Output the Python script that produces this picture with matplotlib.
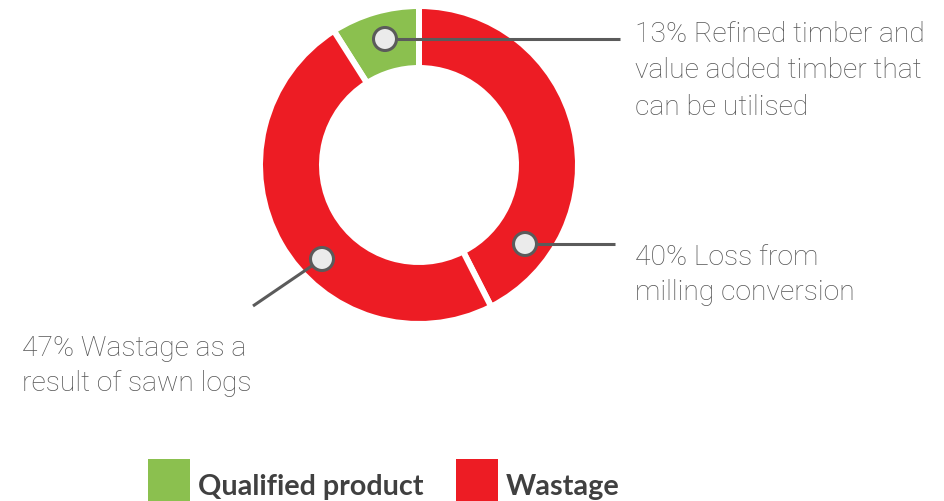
import matplotlib
matplotlib.use("Agg")
import matplotlib.pyplot as plt
from matplotlib.patches import Circle, Rectangle
import numpy as np

# ---- data ----
slice_names = ["Refined timber", "Loss from milling", "Wastage sawn logs"]
slice_values = [9.0, 42.5, 48.5]          # as drawn in the ring
slice_colors = ["#8BC04F", "#ED1C24", "#ED1C24"]
label_lines = [
    ["13% Refined timber and", "value added timber that", "can be utilised"],
    ["40% Loss from", "milling conversion"],
    ["47% Wastage as a", "result of sawn logs"],
]
legend_labels = ["Qualified product", "Wastage"]
legend_colors = ["#8BC04F", "#ED1C24"]

W, H = 945, 502
fig = plt.figure(figsize=(W / 100, H / 100), dpi=100)
ax = fig.add_axes([0, 0, 1, 1])
ax.set_xlim(0, W)
ax.set_ylim(0, H)
ax.set_aspect("equal")
ax.axis("off")

def Y(y):
    return H - y

cx, cy = 419, Y(166)
gap_px = 6
lw_pt = gap_px * 72 / 100
R_out, R_in = 156, 100
radius = R_out + gap_px / 2
width = (R_out - R_in) + gap_px

total = sum(slice_values)
start = 90 + 360 * slice_values[0] / total
ax.pie(slice_values, colors=slice_colors, startangle=start, counterclock=False,
       center=(cx, cy), radius=radius, frame=True,
       wedgeprops=dict(width=width, edgecolor="white", linewidth=lw_pt))
ax.set_xlim(0, W)
ax.set_ylim(0, H)
ax.axis("off")

line_c = "#5B5B5B"
marker_pts = [(385, 40), (525, 245), (322, 260)]
line_ends = [(620, 40), (615, 245), (253, 307)]
for (mx, my), (ex, ey) in zip(marker_pts, line_ends):
    ax.plot([mx, ex], [Y(my), Y(ey)], color=line_c, lw=2.2, solid_capstyle="butt", zorder=5)
    ax.add_patch(Circle((mx, Y(my)), 11.5, facecolor="#EBEBEB", edgecolor=line_c, lw=2.2, zorder=6))

txt_c = "#555555"
font = dict(family=["Roboto", "DejaVu Sans"], fontsize=20.3, color=txt_c, fontweight="light")
label_pos = [(635, 42, 36.5), (635, 265, 34.5), (22, 356, 35)]
for (x, y0, dy), lines in zip(label_pos, label_lines):
    for i, t in enumerate(lines):
        ax.text(x, Y(y0 + i * dy), t, ha="left", va="baseline", **font)

# legend
leg_font = dict(family=["Lato", "DejaVu Sans"], fontsize=20.7, color="#404040", fontweight="bold")
sq = 42
leg_x = [148, 456]
for x, lab, col in zip(leg_x, legend_labels, legend_colors):
    ax.add_patch(Rectangle((x, Y(502)), sq, sq, facecolor=col, edgecolor="none"))
    ax.text(x + sq + 8, Y(495), lab, ha="left", va="baseline", **leg_font)

fig.savefig("out.png", dpi=100)
